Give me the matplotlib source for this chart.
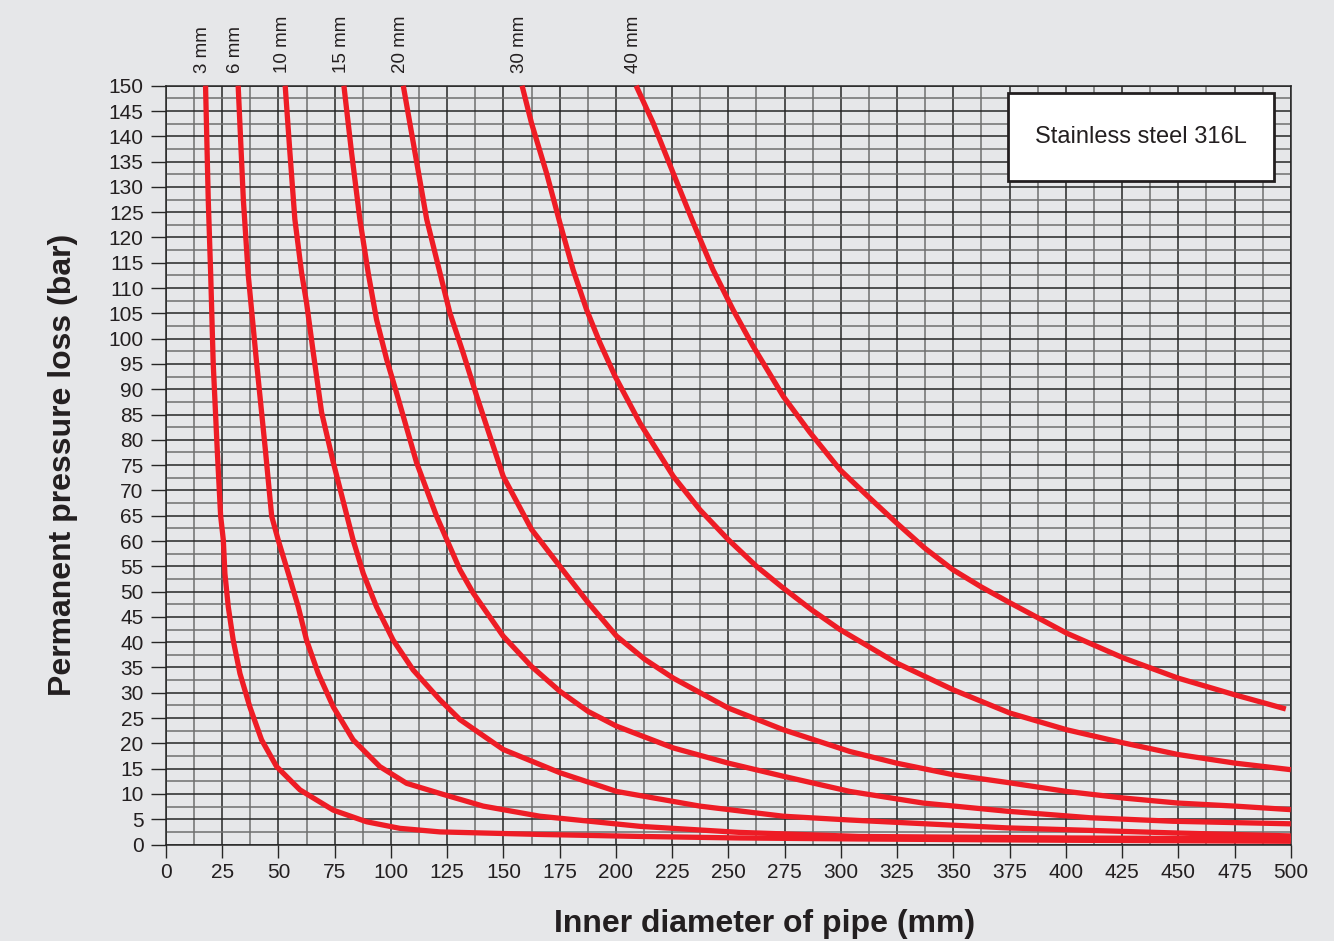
import matplotlib
matplotlib.use("Agg")
import matplotlib.pyplot as plt
from matplotlib.ticker import MultipleLocator

plt.rcParams['font.family'] = ['Liberation Sans', 'DejaVu Sans']

# ---------------------------------------------
# Curves: (diameter, pressure loss)
# ---------------------------------------------
labels = ["3 mm", "6 mm", "10 mm", "15 mm", "20 mm", "30 mm", "40 mm"]

x_3 = [17.6, 18.8, 19.9, 21.0, 22.8, 24.3, 25.5, 26.2, 27.7, 29.9, 32.9, 37.3, 42.5, 49.2, 59.6, 74.4, 89.2, 104, 121.8, 166, 210.7, 255, 308, 400, 500]
y_3 = [150, 127.5, 112.5, 95.2, 78, 65, 60.2, 53.6, 47.0, 40.4, 33.8, 27.2, 20.7, 15.4, 10.8, 6.8, 4.5, 3.2, 2.5, 2.0, 1.6, 1.3, 1.1, 0.85, 0.65]

x_6 = [32.1, 34.4, 36.6, 40.3, 44.2, 47.0, 49.9, 54.4, 58.8, 62.5, 67.7, 74.4, 83.2, 95.1, 107, 121.8, 141, 166.2, 210.7, 255, 308, 400, 500]
y_6 = [150, 127.5, 112.5, 95.2, 78, 64.9, 60.2, 53.6, 47.0, 40.4, 33.8, 27.2, 20.7, 15.4, 12.1, 10.1, 7.6, 5.6, 3.6, 2.4, 1.6, 1.3, 1.1]

x_10 = [53.0, 55.1, 57.3, 60.3, 62.5, 65.5, 69.2, 74.4, 79.0, 83.2, 87.7, 93.6, 101, 109.9, 121.8, 130.7, 149.9, 175.1, 200.3, 237.3, 274.4, 304, 373.6, 447.7, 500]
y_10 = [150, 136.8, 123.6, 113.0, 107.1, 97.2, 85.4, 75.5, 67.5, 60.2, 53.6, 47.0, 40.4, 34.5, 28.6, 24.7, 18.8, 14.2, 10.5, 7.6, 5.6, 4.85, 3.3, 2.3, 1.7]

x_15 = [79.1, 82.5, 86.2, 89.9, 93.6, 98.1, 102.5, 111.4, 120.3, 130.7, 136.6, 149.9, 162.5, 175.1, 187.7, 200.3, 225.5, 249.9, 274.4, 304, 336.6, 373.6, 410.7, 447.7, 500]
y_15 = [150, 136.8, 123.6, 113.0, 103.8, 95.9, 89.3, 75.5, 64.9, 54.3, 49.7, 41.2, 35.2, 30.3, 26.3, 23.4, 19.1, 16.1, 13.5, 10.5, 8.2, 6.6, 5.3, 4.6, 4.1]

x_20 = [105.5, 110.7, 115.9, 121.8, 126.2, 132.1, 138.1, 149.9, 162.5, 175.1, 187.7, 200.3, 212.9, 225.5, 249.9, 274.4, 304, 324.7, 349.9, 375.1, 400.3, 425.5, 449.9, 475.1, 500]
y_20 = [150, 136.8, 123.6, 113.0, 105.1, 97.2, 88.7, 72.8, 62.3, 55.0, 47.8, 41.2, 36.6, 32.9, 27.0, 22.7, 18.4, 16.1, 13.8, 12.2, 10.5, 9.2, 8.2, 7.6, 6.9]

x_30 = [158.3, 162.5, 169.2, 175.1, 181.0, 187.0, 192.9, 199.6, 210.7, 225.5, 237.3, 249.9, 262.5, 274.4, 287.0, 299.6, 324.7, 349.9, 375.1, 400.3, 425.5, 449.9, 475.1, 500]
y_30 = [150, 142.6, 132.7, 122.9, 113.6, 105.7, 99.2, 92.6, 83.3, 72.8, 66.2, 60.3, 55.0, 50.7, 46.4, 42.5, 35.9, 30.6, 26.0, 22.7, 20.1, 17.8, 16.1, 14.8]

x_40 = [209.0, 216.6, 225.5, 234.4, 243.2, 252.1, 261.0, 274.4, 286.2, 299.6, 312.1, 324.7, 337.3, 349.9, 362.5, 375.1, 400.3, 425.5, 449.9, 475.1, 497.8]
y_40 = [150, 142.6, 132.7, 122.9, 113.6, 105.7, 98.5, 88.6, 81.5, 74.1, 68.8, 63.6, 58.6, 54.3, 50.9, 47.8, 41.8, 36.9, 32.9, 29.6, 26.8]

curves_x = [x_3, x_6, x_10, x_15, x_20, x_30, x_40]
curves_y = [y_3, y_6, y_10, y_15, y_20, y_30, y_40]

bg = "#e6e7e9"
red = "#ee1c25"
ink = "#231f20"

fig = plt.figure(figsize=(13.34, 9.41), dpi=100, facecolor=bg)
ax = fig.add_axes([0.1244, 0.1025, 0.8432, 0.8064], facecolor=bg)

# grid
ax.set_xlim(0, 500)
ax.set_ylim(0, 150)
ax.xaxis.set_major_locator(MultipleLocator(25))
ax.xaxis.set_minor_locator(MultipleLocator(12.5))
ax.yaxis.set_major_locator(MultipleLocator(5))
ax.yaxis.set_minor_locator(MultipleLocator(2.5))
ax.grid(which="major", color="#262626", linewidth=1.1)
ax.grid(which="minor", color="#6f6f6f", linewidth=1.1)
ax.set_axisbelow(True)
for s in ax.spines.values():
    s.set_color("#262626")
    s.set_linewidth(1.1)

ax.tick_params(which="major", axis="x", length=9, width=1, color="#262626", pad=4,
               labelsize=15, labelcolor=ink)
ax.tick_params(which="major", axis="y", length=11, width=1, color="#262626", pad=5,
               labelsize=15, labelcolor=ink)
ax.tick_params(which="minor", length=0)

# curves
for xs, ys, lab in zip(curves_x, curves_y, labels):
    ax.plot(xs, ys, color=red, linewidth=3.8, solid_capstyle="butt",
            solid_joinstyle="round", clip_on=False, zorder=3)
    ax.annotate(lab, xy=(xs[0], 150), xytext=(-2, 9), textcoords="offset points",
                rotation=90, ha="center", va="bottom", fontsize=13.5, color=ink,
                annotation_clip=False)

# material box
box = plt.Rectangle((0.7485, 0.875), 0.2365, 0.116, transform=ax.transAxes,
                    facecolor="white", edgecolor=ink, linewidth=2, zorder=4)
ax.add_patch(box)
ax.text(0.8667, 0.933, "Stainless steel 316L", transform=ax.transAxes,
        ha="center", va="center", fontsize=17, color=ink, zorder=5)

ax.set_xlabel("Inner diameter of pipe (mm)", fontsize=23, fontweight="bold",
              color=ink, labelpad=20)
ax.xaxis.label.set_x(0.532)
ax.set_ylabel("Permanent pressure loss (bar)", fontsize=23, fontweight="bold",
              color=ink, labelpad=22)

fig.savefig("out.png", dpi=100, facecolor=bg)
